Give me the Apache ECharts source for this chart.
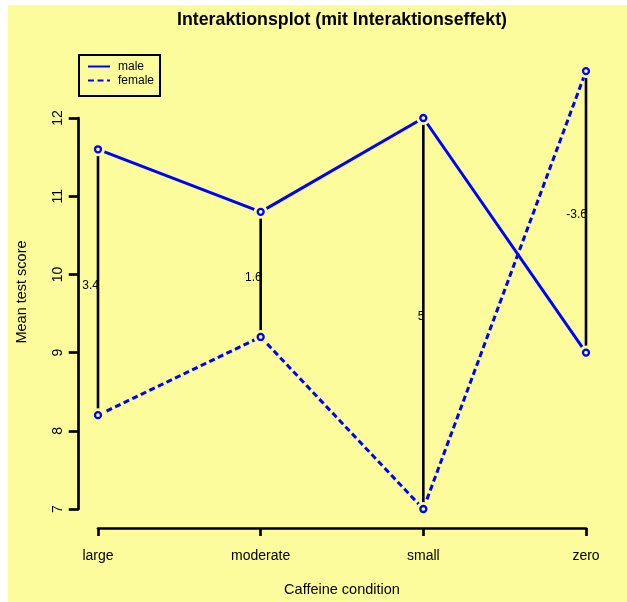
<!DOCTYPE html>
<html><head><meta charset="utf-8">
<script src="https://cdn.jsdelivr.net/npm/echarts@6/dist/echarts.min.js"></script>
<style>
html,body{margin:0;padding:0;background:#fff;}
#bg{position:absolute;left:8px;top:5px;width:619px;height:597px;background:#FCFC9C;}
#chart{position:absolute;left:0;top:0;width:627px;height:602px;}
</style></head><body>
<div id="bg"></div><div id="chart"></div>
<script>
const categories = ['large', 'moderate', 'small', 'zero'];
const male = [11.6, 10.8, 12, 9];
const female = [8.2, 9.2, 7, 12.6];
const seriesNames = ['male', 'female'];
const titleText = 'Interaktionsplot (mit Interaktionseffekt)';
const xName = 'Caffeine condition';
const yName = 'Mean test score';

const YELLOW = '#FCFC9C';
const BLUE = '#0000FF';
const FONT = '"Liberation Sans", Arial, sans-serif';

const chart = echarts.init(document.getElementById('chart'), null, {renderer: 'canvas'});

const diffData = categories.map((c, i) => [i, male[i], female[i]]);

const option = {
  animation: false,
  backgroundColor: 'transparent',
  textStyle: {fontFamily: FONT, color: '#000'},
  title: {
    text: titleText, left: 342, top: 11, padding: 0, textAlign: 'center',
    textStyle: {fontFamily: FONT, fontSize: 17.8, fontWeight: 'bold', color: '#000'}
  },
  legend: {
    data: seriesNames, orient: 'vertical', left: 79, top: 55,
    itemWidth: 22, itemHeight: 10, itemGap: 1,
    borderColor: '#000', borderWidth: 2, padding: [5, 6, 9, 8],
    itemStyle: {opacity: 0},
    textStyle: {fontFamily: FONT, fontSize: 12, lineHeight: 13, color: '#000', padding: [0, 0, 0, 3]}
  },
  graphic: [{
    type: 'text', x: 22, y: 292, rotation: Math.PI / 2,
    style: {text: yName, x: 0, y: 0, align: 'center', verticalAlign: 'middle',
      textAlign: 'center', textVerticalAlign: 'middle',
      font: '14.5px ' + FONT, fill: '#000'}
  }],
  grid: {left: 98, right: 41, top: 118, bottom: 90},
  xAxis: {
    type: 'category', data: categories, boundaryGap: false, offset: 19,
    axisLine: {lineStyle: {color: '#000', width: 2.7}},
    axisTick: {length: 8, lineStyle: {color: '#000', width: 2.7}},
    axisLabel: {fontSize: 14, color: '#000', margin: 21, fontFamily: FONT},
    name: xName, nameLocation: 'middle', nameGap: 54,
    nameTextStyle: {fontSize: 14.5, color: '#000', fontFamily: FONT},
    splitLine: {show: false}
  },
  yAxis: {
    type: 'value', min: 7, max: 12, interval: 1, offset: 19.3,
    axisLine: {show: true, lineStyle: {color: '#000', width: 2.7}},
    axisTick: {show: true, length: 10, lineStyle: {color: '#000', width: 2.7}},
    axisLabel: {fontSize: 14, color: '#000', rotate: 90, margin: 14, fontFamily: FONT},
    splitLine: {show: false}
  },
  series: [
    {
      type: 'custom', name: 'diff', z: 1, clip: false, silent: true,
      data: diffData, encode: {x: 0, y: [1, 2]},
      renderItem: function (params, api) {
        const i = api.value(0);
        const a = api.coord([i, api.value(1)]);
        const b = api.coord([i, api.value(2)]);
        const d = Math.round((api.value(1) - api.value(2)) * 10) / 10;
        return {type: 'group', children: [
          {type: 'text', style: {x: a[0] + 1, y: (a[1] + b[1]) / 2 + 3, text: String(d),
            align: 'right', verticalAlign: 'middle', textAlign: 'right', textVerticalAlign: 'middle',
            fill: '#000', font: '12px ' + FONT}},
          {type: 'line', shape: {x1: a[0], y1: a[1], x2: b[0], y2: b[1]},
            style: {stroke: '#000', lineWidth: 2.6}}
        ]};
      }
    },
    {
      type: 'line', name: seriesNames[0], data: male, symbol: 'none', z: 2, clip: false,
      lineStyle: {color: BLUE, width: 3, type: 'solid'}, itemStyle: {color: BLUE}
    },
    {
      type: 'line', name: seriesNames[1], data: female, symbol: 'none', z: 2, clip: false,
      lineStyle: {color: BLUE, width: 3, type: [6, 3.5]}, itemStyle: {color: BLUE}
    },
    {type: 'scatter', name: 'maleGap', data: male, symbolSize: 14, z: 3, clip: false, silent: true,
      itemStyle: {color: YELLOW, opacity: 1}},
    {type: 'scatter', name: 'femaleGap', data: female, symbolSize: 14, z: 3, clip: false, silent: true,
      itemStyle: {color: YELLOW, opacity: 1}},
    {type: 'scatter', name: 'malePts', data: male, symbolSize: 6, z: 4, clip: false, silent: true,
      itemStyle: {color: YELLOW, borderColor: BLUE, borderWidth: 2.3, opacity: 1}},
    {type: 'scatter', name: 'femalePts', data: female, symbolSize: 6, z: 4, clip: false, silent: true,
      itemStyle: {color: YELLOW, borderColor: BLUE, borderWidth: 2.3, opacity: 1}}
  ]
};
chart.setOption(option);
</script>
</body></html>
